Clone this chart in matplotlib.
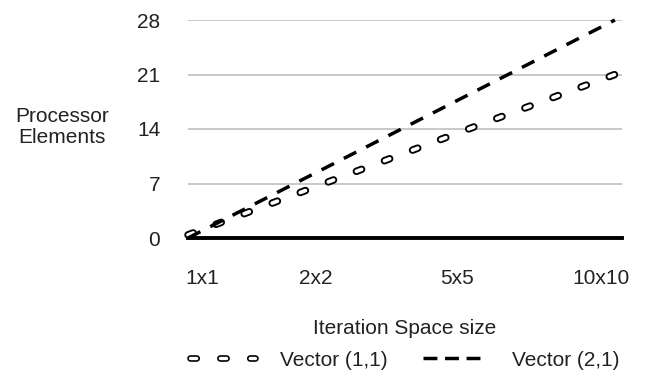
import numpy as np
import matplotlib
matplotlib.use("Agg")
import matplotlib.pyplot as plt
from matplotlib.lines import Line2D
import matplotlib.patheffects as pe

plt.rcParams['font.family'] = ['Liberation Sans', 'DejaVu Sans']
plt.rcParams['lines.scale_dashes'] = False

categories = ["1x1", "2x2", "5x5", "10x10"]
vector_11 = [0.4, 7.3, 14.2, 21.0]
vector_21 = [0.0, 9.33, 18.67, 28.0]
yticks = [0, 7, 14, 21, 28]
label_pos = [0.1, 0.9, 1.89, 2.9]

W, H = 646, 383
fig = plt.figure(figsize=(W / 100, H / 100), dpi=100)
ax = fig.add_axes([188 / W, 1 - 238 / H, (622 - 188) / W, (238 - 20) / H])

x = np.arange(len(categories))
txt = '#222222'
fs = 15

ax.set_xlim(0, 3.05)
ax.set_ylim(0, 28)
for s in ax.spines.values():
    s.set_visible(False)
ax.set_yticks(yticks)
ax.set_yticklabels([str(v) for v in yticks])
ax.set_xticks(label_pos)
ax.set_xticklabels(categories)
ax.tick_params(axis='both', length=0, labelsize=fs, labelcolor=txt)
ax.tick_params(axis='y', pad=20)
ax.tick_params(axis='x', pad=22)
ax.yaxis.grid(True, color='#c4c4c4', lw=1.3)
ax.set_axisbelow(True)

ax.axhline(0, color='black', lw=2.8, clip_on=False, zorder=2)

ell_fx = [pe.Stroke(linewidth=5.4, foreground='black'), pe.Normal()]
ax.plot(x, vector_11, color='white', lw=2.7, dashes=(4.0, 17.6),
        dash_capstyle='round', path_effects=ell_fx, clip_on=False, zorder=3)
ax.plot(x, vector_21, color='black', lw=2.5, dashes=(10, 8), dash_capstyle='butt',
        clip_on=False, zorder=3)

fig.text(62 / W, 1 - 127 / H, 'Processor\nElements', ha='center', va='center',
         fontsize=fs, color=txt, linespacing=1.15)
fig.text(405 / W, 1 - 328 / H, 'Iteration Space size', ha='center', va='center',
         fontsize=fs, color=txt)

h1 = Line2D([], [], color='white', lw=2.4, dashes=(4.5, 17.0), dash_capstyle='round',
            path_effects=[pe.Stroke(linewidth=4.8, foreground='black'), pe.Normal()])
h2 = Line2D([], [], color='black', lw=2.5, dashes=(10, 5.5), dash_capstyle='butt')
fig.legend([h1, h2], ['Vector (1,1)', 'Vector (2,1)'], loc='center',
           bbox_to_anchor=(405 / W, 1 - 360 / H), ncol=2, frameon=False,
           fontsize=fs, handlelength=3.1, handletextpad=1.2, columnspacing=1.7,
           labelcolor=txt)

fig.savefig('out.png', dpi=100)
